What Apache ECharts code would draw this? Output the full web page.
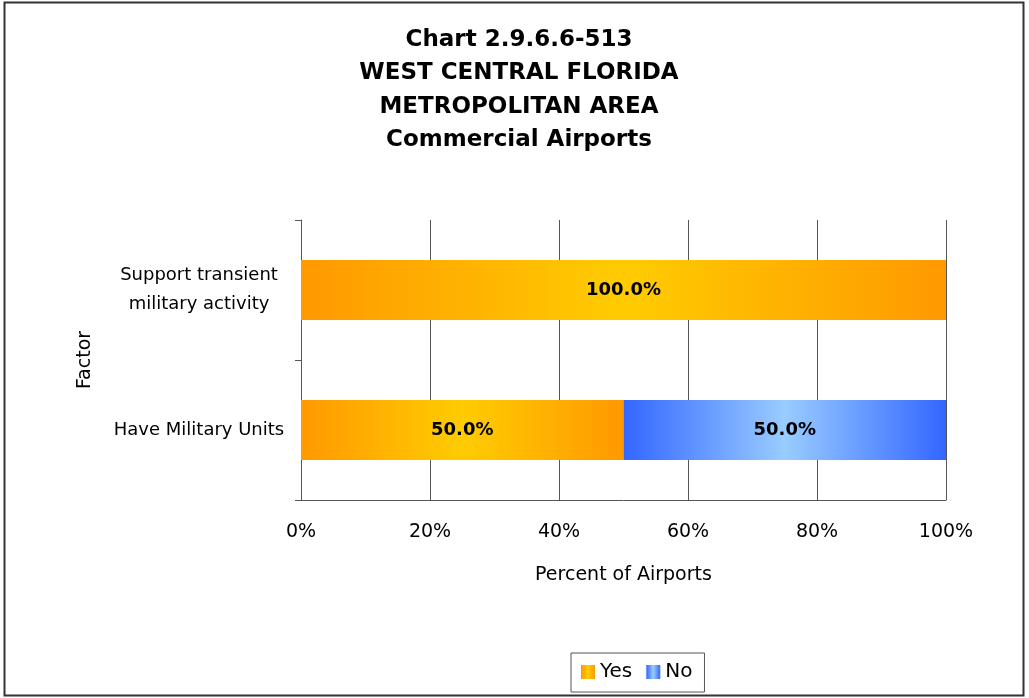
<!DOCTYPE html>
<html>
<head>
<meta charset="utf-8">
<script src="https://cdn.jsdelivr.net/npm/echarts@6/dist/echarts.min.js"></script>
<style>
html, body { margin: 0; padding: 0; background: #fff; }
#main { width: 1029px; height: 698px; }
</style>
</head>
<body>
<div id="main"></div>
<script>
// data
var categories = ['Have Military Units', 'Support transient\nmilitary activity'];
var yesValues = [50, 100];
var noValues = [50, 0];
var xTicks = [0, 20, 40, 60, 80, 100];

var font = 'DejaVu Sans, sans-serif';

function grad (edge, mid) {
  return new echarts.graphic.LinearGradient(0, 0, 1, 0, [
    { offset: 0, color: edge },
    { offset: 0.5, color: mid },
    { offset: 1, color: edge }
  ]);
}

function pctLabel (p) {
  return p.value > 0 ? p.value.toFixed(1) + '%' : '';
}

var chart = echarts.init(document.getElementById('main'));
chart.setOption({
  backgroundColor: '#fff',
  animation: false,
  title: {
    text: 'Chart 2.9.6.6-513\nWEST CENTRAL FLORIDA\nMETROPOLITAN AREA\nCommercial Airports',
    left: 514,
    textAlign: 'center',
    top: 18,
    textStyle: {
      fontFamily: font,
      fontSize: 23,
      fontWeight: 'bold',
      lineHeight: 33.5,
      color: '#000'
    }
  },
  graphic: [{
    type: 'rect',
    shape: { x: 4.5, y: 2.5, width: 1019, height: 693 },
    style: { fill: 'none', stroke: '#333', lineWidth: 2 },
    silent: true
  }],
  legend: {
    data: ['Yes', 'No'],
    icon: 'rect',
    left: 571,
    top: 653,
    itemWidth: 14,
    itemHeight: 14,
    itemGap: 14,
    padding: [9, 12, 10, 10],
    borderColor: '#555',
    borderWidth: 1,
    textStyle: { fontFamily: font, fontSize: 20, color: '#000' }
  },
  grid: {
    left: 301,
    right: 83,
    top: 220,
    bottom: 198
  },
  xAxis: {
    type: 'value',
    min: xTicks[0],
    max: xTicks[xTicks.length - 1],
    interval: 20,
    name: 'Percent of Airports',
    nameLocation: 'middle',
    nameGap: 66,
    nameTextStyle: { fontFamily: font, fontSize: 19, color: '#000' },
    axisLine: { show: true, lineStyle: { color: '#555', width: 1 } },
    axisTick: { show: false },
    axisLabel: {
      fontFamily: font,
      fontSize: 19,
      color: '#000',
      margin: 23,
      formatter: '{value}%'
    },
    splitLine: { show: true, lineStyle: { color: '#555', width: 1 } }
  },
  yAxis: {
    type: 'category',
    data: categories,
    name: 'Factor',
    nameLocation: 'middle',
    nameGap: 206,
    nameRotate: 90,
    nameTextStyle: { fontFamily: font, fontSize: 19, color: '#000' },
    axisLine: { show: true, lineStyle: { color: '#555', width: 1 } },
    axisTick: { show: true, length: 6, lineStyle: { color: '#555' } },
    axisLabel: {
      fontFamily: font,
      fontSize: 18,
      color: '#000',
      align: 'center',
      margin: 102,
      lineHeight: 29
    },
    splitLine: { show: false }
  },
  series: [{
    name: 'Yes',
    type: 'bar',
    stack: 'total',
    barWidth: '43%',
    data: yesValues,
    itemStyle: { color: grad('#FF9900', '#FFCC00') },
    label: {
      show: true,
      position: 'inside',
      fontFamily: font,
      fontSize: 18,
      fontWeight: 'bold',
      color: '#000',
      formatter: pctLabel
    }
  }, {
    name: 'No',
    type: 'bar',
    stack: 'total',
    barWidth: '43%',
    data: noValues,
    itemStyle: { color: grad('#3366FF', '#99CCFF') },
    label: {
      show: true,
      position: 'inside',
      fontFamily: font,
      fontSize: 18,
      fontWeight: 'bold',
      color: '#000',
      formatter: pctLabel
    }
  }]
});
</script>
</body>
</html>
